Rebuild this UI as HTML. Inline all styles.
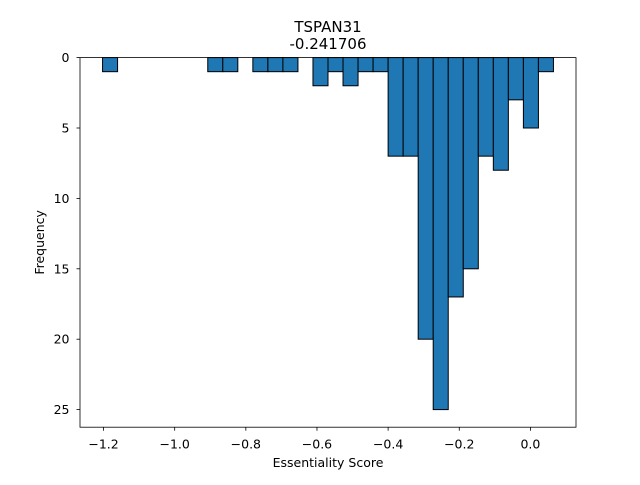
<!DOCTYPE html>
<html><head><meta charset="utf-8"><style>
body{margin:0;background:#fff}
svg text{font-family:"DejaVu Sans","Liberation Sans",sans-serif;fill:#000}
</style></head><body>
<svg id="chart" width="640" height="480" xmlns="http://www.w3.org/2000/svg">
<rect width="640" height="480" fill="#fff"/>
<g id="bars"></g>
<g id="xticks"></g>
<g id="yticks"></g>
<rect x="80" y="57.6" width="496" height="369.6" fill="none" stroke="#000" stroke-width="0.8"/>
<text x="328" y="32" font-size="15" text-anchor="middle">TSPAN31</text>
<text x="328" y="49" font-size="15" text-anchor="middle">-0.241706</text>
<text x="328" y="467" font-size="12.5" text-anchor="middle">Essentiality Score</text>
<text transform="translate(44,242.4) rotate(-90)" font-size="12.5" text-anchor="middle">Frequency</text>
</svg>
<script>
const binStart = -1.2028;
const binWidth = 0.042253;
const counts = [1,0,0,0,0,0,0,1,1,0,1,1,1,0,2,1,2,1,1,7,7,20,25,17,15,7,8,3,5,1];
const xTickValues = [-1.2,-1.0,-0.8,-0.6,-0.4,-0.2,0.0];
const xTickLabels = ["−1.2","−1.0","−0.8","−0.6","−0.4","−0.2","0.0"];
const yTickValues = [0,5,10,15,20,25];
const yTickLabels = ["0","5","10","15","20","25"];

const L=80,R=576,T=57.6,B=427.2;
const n=counts.length;
const xmin0=binStart, xmax0=binStart+n*binWidth, pad=(xmax0-xmin0)*0.05;
const xmin=xmin0-pad, xmax=xmax0+pad;
const ymax=Math.max(...counts)*1.05;
function xs(v){return L+(v-xmin)/(xmax-xmin)*(R-L);}
function ys(v){return T+v/ymax*(B-T);}
const NS="http://www.w3.org/2000/svg";
const bars=document.getElementById('bars');
counts.forEach((c,i)=>{
  if(c<=0) return;
  const r=document.createElementNS(NS,'rect');
  const x0=xs(binStart+i*binWidth), x1=xs(binStart+(i+1)*binWidth);
  r.setAttribute('x',x0);r.setAttribute('y',ys(0));
  r.setAttribute('width',x1-x0);r.setAttribute('height',ys(c)-ys(0));
  r.setAttribute('fill','#1f77b4');r.setAttribute('stroke','#000');r.setAttribute('stroke-width','1');
  
  
  bars.appendChild(r);
});
const xt=document.getElementById('xticks');
xTickValues.forEach((v,i)=>{
  const x=xs(v);
  const l=document.createElementNS(NS,'line');
  l.setAttribute('x1',x);l.setAttribute('x2',x);l.setAttribute('y1',B);l.setAttribute('y2',B+3.5);
  l.setAttribute('stroke','#000');l.setAttribute('stroke-width','0.8');
  
  
  xt.appendChild(l);
  const t=document.createElementNS(NS,'text');
  t.setAttribute('x',x);t.setAttribute('y',448.3);t.setAttribute('font-size','12.5');t.setAttribute('text-anchor','middle');
  t.textContent=xTickLabels[i];
  
  
  xt.appendChild(t);
});
const yt=document.getElementById('yticks');
yTickValues.forEach((v,i)=>{
  const y=ys(v);
  const l=document.createElementNS(NS,'line');
  l.setAttribute('x1',L-3.5);l.setAttribute('x2',L);l.setAttribute('y1',y);l.setAttribute('y2',y);
  l.setAttribute('stroke','#000');l.setAttribute('stroke-width','0.8');
  
  
  yt.appendChild(l);
  const t=document.createElementNS(NS,'text');
  t.setAttribute('x',L-10.5);t.setAttribute('y',y+4.5);t.setAttribute('font-size','12.5');t.setAttribute('text-anchor','end');
  t.textContent=yTickLabels[i];
  
  
  yt.appendChild(t);
});
</script>
</body></html>
